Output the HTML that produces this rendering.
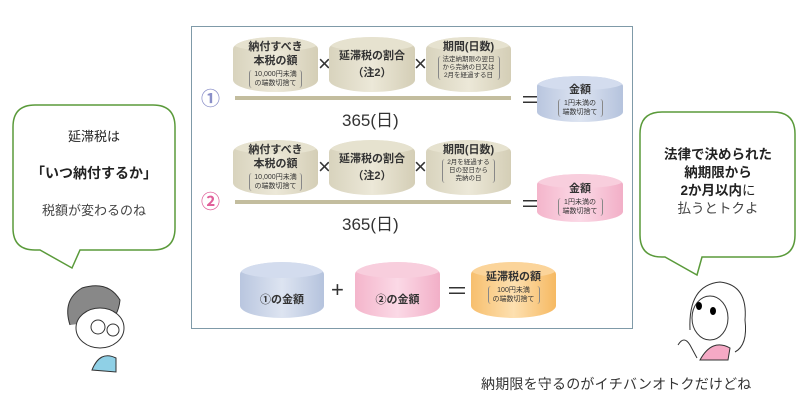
<!DOCTYPE html>
<html><head><meta charset="utf-8"><style>
*{margin:0;padding:0;box-sizing:border-box}
body{width:800px;height:411px;background:#fff;position:relative;overflow:hidden;font-family:"Liberation Sans","Noto Sans CJK JP",sans-serif;color:#222}
.a{position:absolute}
.panel{left:191px;top:26px;width:442px;height:303px;border:1.5px solid #7f9aa8;background:#fff}
.cyl{position:absolute;border-radius:50%/22%;text-align:center;color:#333;font-weight:bold;overflow:hidden}
.cyl .t{position:absolute;left:0;right:0;top:0;border-radius:50%}
.cyl .c{position:relative;z-index:1}
.beige{background:linear-gradient(90deg,#d8d3bd,#ece8d8 50%,#d4ceb6)}
.beige .t{background:#e6e2cf}
.blue{background:linear-gradient(90deg,#b9c6df,#dde4f1 50%,#b5c3dd)}
.blue .t{background:#d3dcee}
.pink{background:linear-gradient(90deg,#f4b5cb,#fbd9e6 50%,#f2afc7)}
.pink .t{background:#f8cedd}
.org{background:linear-gradient(90deg,#f7bf6e,#fde0b0 50%,#f6b962)}
.org .t{background:#fbd49a}
.sm{font-size:7px;font-weight:normal;line-height:9px;border-left:1px solid #888;border-right:1px solid #888;border-radius:3px;display:inline-block;padding:0 4px;margin-top:2px}
.op{position:absolute;font-size:22px;color:#333;line-height:22px}
.line{position:absolute;height:4px;background:#c3bd9e}
.n365{position:absolute;font-size:17px;color:#333}
.circ{position:absolute;font-size:19px;font-weight:bold;line-height:20px}
</style></head><body>
<div class="a panel"></div>

<!-- row 1 -->
<div class="cyl beige" style="left:233px;top:37px;width:85px;height:55px"><div class="t" style="height:14px"></div><div class="c" style="font-size:11px;line-height:14px;padding-top:3px">納付すべき<br>本税の額<br><span class="sm">10,000円未満<br>の端数切捨て</span></div></div>
<div class="op" style="left:318px;top:53px">×</div>
<div class="cyl beige" style="left:329px;top:37px;width:86px;height:55px"><div class="t" style="height:14px"></div><div class="c" style="font-size:11px;line-height:17px;padding-top:11px">延滞税の割合<br>（注2）</div></div>
<div class="op" style="left:414px;top:53px">×</div>
<div class="cyl beige" style="left:426px;top:37px;width:85px;height:55px"><div class="t" style="height:14px"></div><div class="c" style="font-size:11px;line-height:14px;padding-top:3px">期間(日数)<br><span class="sm" style="font-size:6.5px;line-height:8px">法定納期限の翌日<br>から完納の日又は<br>2月を経過する日</span></div></div>
<div class="circ" style="left:201px;top:90px;color:#8a8fc8">①</div>
<div class="line" style="left:235px;top:96px;width:276px"></div>
<div class="n365" style="left:342px;top:106px">365(日)</div>
<div class="op" style="left:520px;top:90px">＝</div>
<div class="cyl blue" style="left:537px;top:76px;width:86px;height:46px"><div class="t" style="height:14px"></div><div class="c" style="font-size:11px;line-height:14px;padding-top:7px">金額<br><span class="sm">1円未満の<br>端数切捨て</span></div></div>

<!-- row 2 -->
<div class="cyl beige" style="left:233px;top:140px;width:85px;height:55px"><div class="t" style="height:14px"></div><div class="c" style="font-size:11px;line-height:14px;padding-top:3px">納付すべき<br>本税の額<br><span class="sm">10,000円未満<br>の端数切捨て</span></div></div>
<div class="op" style="left:318px;top:156px">×</div>
<div class="cyl beige" style="left:329px;top:140px;width:86px;height:55px"><div class="t" style="height:14px"></div><div class="c" style="font-size:11px;line-height:17px;padding-top:11px">延滞税の割合<br>（注2）</div></div>
<div class="op" style="left:414px;top:156px">×</div>
<div class="cyl beige" style="left:426px;top:140px;width:85px;height:55px"><div class="t" style="height:14px"></div><div class="c" style="font-size:11px;line-height:14px;padding-top:3px">期間(日数)<br><span class="sm" style="font-size:6.5px;line-height:8px">2月を経過する<br>日の翌日から<br>完納の日</span></div></div>
<div class="circ" style="left:201px;top:193px;color:#e0609a">②</div>
<div class="line" style="left:235px;top:200px;width:276px"></div>
<div class="n365" style="left:342px;top:210px">365(日)</div>
<div class="op" style="left:520px;top:194px">＝</div>
<div class="cyl pink" style="left:537px;top:174px;width:86px;height:48px"><div class="t" style="height:14px"></div><div class="c" style="font-size:11px;line-height:14px;padding-top:8px">金額<br><span class="sm">1円未満の<br>端数切捨て</span></div></div>

<!-- row 3 -->
<div class="cyl blue" style="left:240px;top:262px;width:84px;height:56px"><div class="t" style="height:16px"></div><div class="c" style="font-size:11px;padding-top:29px">①の金額</div></div>
<div class="op" style="left:331px;top:279px">+</div>
<div class="cyl pink" style="left:355px;top:262px;width:85px;height:56px"><div class="t" style="height:16px"></div><div class="c" style="font-size:11px;padding-top:29px">②の金額</div></div>
<div class="op" style="left:446px;top:281px">＝</div>
<div class="cyl org" style="left:471px;top:262px;width:85px;height:56px"><div class="t" style="height:16px"></div><div class="c" style="font-size:11px;line-height:14px;padding-top:8px">延滞税の額<br><span class="sm">100円未満<br>の端数切捨て</span></div></div>

<svg class="a" style="left:0;top:0" width="800" height="411">
<path d="M35,105 H153 Q175,105 175,127 V228 Q175,250 153,250 H80 L72,268 L40,250 H35 Q13,250 13,228 V127 Q13,105 35,105Z" fill="#fff" stroke="#5a9a3a" stroke-width="1.5"/>
<path d="M662,112 H773 Q795,112 795,134 V235 Q795,257 773,257 H702 L697,275 L665,257 H662 Q640,257 640,235 V134 Q640,112 662,112Z" fill="#fff" stroke="#5a9a3a" stroke-width="1.5"/>
<!-- boy -->
<path d="M70,325 Q62,300 82,288 Q108,280 120,300 Q118,318 108,320" fill="#888" stroke="#333"/>
<ellipse cx="100" cy="328" rx="24" ry="20" fill="#fff" stroke="#333"/>
<circle cx="98" cy="327" r="7" fill="#fff" stroke="#333"/><circle cx="113" cy="330" r="6" fill="#fff" stroke="#333"/>
<path d="M92,370 Q100,350 116,358 L116,372 Z" fill="#8fd0e6" stroke="#333"/>
<!-- girl -->
<path d="M690,330 Q688,285 720,282 Q748,285 745,320 Q748,345 735,352" fill="#fff" stroke="#333"/>
<ellipse cx="710" cy="318" rx="18" ry="22" fill="#fff" stroke="#333"/>
<ellipse cx="699" cy="306" rx="3" ry="4"/><ellipse cx="713" cy="311" rx="3" ry="4"/>
<path d="M700,360 Q712,338 730,348 L728,360 Z" fill="#f5a9c5" stroke="#333"/>
<path d="M678,345 Q684,335 690,345 L697,358" fill="#fff" stroke="#333"/>
</svg>
<div class="a" style="left:13px;top:105px;width:162px;text-align:center">
<div style="font-size:13px;margin-top:21px">延滞税は</div>
<div style="font-size:14px;font-weight:bold;margin-top:18px">「いつ納付するか」</div>
<div style="font-size:13px;margin-top:17px;color:#444">税額が変わるのね</div>
</div>
<div class="a" style="left:640px;top:112px;width:156px;text-align:center">
<div style="font-size:13.5px;font-weight:bold;line-height:18px;margin-top:34px">法律で決められた<br>納期限から<br>2か月以内<span style="font-weight:normal">に</span></div>
<div style="font-size:13.5px;line-height:18px;color:#444">払うとトクよ</div>
</div>
<div class="a" style="left:481px;top:374px;font-size:14px;color:#333;letter-spacing:0.2px">納期限を守るのがイチバンオトクだけどね</div>
</body></html>
